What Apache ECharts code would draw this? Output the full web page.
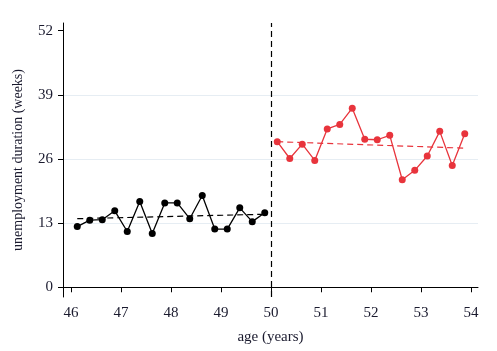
<!DOCTYPE html>
<html>
<head>
<meta charset="utf-8">
<script src="https://cdn.jsdelivr.net/npm/echarts@6/dist/echarts.min.js"></script>
<style>
  html, body { margin: 0; padding: 0; background: #fff; }
  #chart { width: 497px; height: 351px; }
</style>
</head>
<body>
<div id="chart"></div>
<script>
// ages (quarter-year bins) and mean unemployment duration (weeks)
var ageLeft = [46.125, 46.375, 46.625, 46.875, 47.125, 47.375, 47.625, 47.875, 48.125, 48.375, 48.625, 48.875, 49.125, 49.375, 49.625, 49.875];
var durLeft = [12.3, 13.6, 13.7, 15.5, 11.3, 17.4, 10.9, 17.1, 17.1, 13.9, 18.6, 11.8, 11.8, 16.1, 13.3, 15.1];
var ageRight = [50.125, 50.375, 50.625, 50.875, 51.125, 51.375, 51.625, 51.875, 52.125, 52.375, 52.625, 52.875, 53.125, 53.375, 53.625, 53.875];
var durRight = [29.5, 26.1, 29.0, 25.7, 32.1, 33.0, 36.3, 30.0, 29.9, 30.8, 21.8, 23.7, 26.6, 31.6, 24.7, 31.1];

// linear fits on each side (end points)
var fitLeftX = [46.125, 49.875];
var fitLeftY = [13.9, 14.8];
var fitRightX = [50.125, 53.875];
var fitRightY = [29.5, 28.2];

var xTicks = [46, 47, 48, 49, 50, 51, 52, 53, 54];
var yTicks = [0, 13, 26, 39, 52];
var yGrid = [13, 26, 39];
var cutoff = 50;

function pairs(xs, ys) {
  return xs.map(function (x, i) { return [x, ys[i]]; });
}

var red = '#e8343c';
var txt = '#1a1a2e';
var font = '"Liberation Serif", "DejaVu Serif", serif';

var dom = document.getElementById('chart');
var myChart = echarts.init(dom, null, { renderer: 'canvas' });

var option = {
  animation: false,
  textStyle: { fontFamily: font },
  grid: { left: 63, right: 19, top: 23, bottom: 54 },
  xAxis: {
    type: 'value',
    min: 45.84,
    max: 54.14,
    name: 'age (years)',
    nameLocation: 'middle',
    nameGap: 33,
    nameTextStyle: { fontFamily: font, fontSize: 15, color: txt },
    axisLine: { show: true, lineStyle: { color: '#000', width: 1 } },
    axisTick: { show: true, length: 5, customValues: xTicks, lineStyle: { color: '#000' } },
    axisLabel: { customValues: xTicks, fontFamily: font, fontSize: 15, color: txt, margin: 9 },
    splitLine: { show: false }
  },
  yAxis: {
    type: 'value',
    min: -1.97,
    max: 53.56,
    name: 'unemployment duration (weeks)',
    nameLocation: 'middle',
    nameGap: 38,
    nameTextStyle: { fontFamily: font, fontSize: 14, color: txt },
    axisLine: { show: true, lineStyle: { color: '#000', width: 1 } },
    axisTick: { show: true, length: 5, customValues: yTicks, lineStyle: { color: '#000' } },
    axisLabel: { customValues: yTicks, fontFamily: font, fontSize: 15, color: txt, margin: 10 },
    splitLine: { show: false }
  },
  series: [
    {
      type: 'line',
      data: [],
      silent: true,
      z: 0,
      markLine: {
        silent: true,
        symbol: 'none',
        z: 0,
        label: { show: false },
        lineStyle: { color: '#e6edf3', width: 1, type: 'solid' },
        data: yGrid.map(function (v) { return { yAxis: v }; })
      }
    },
    {
      type: 'line',
      data: [],
      silent: true,
      z: 1,
      markLine: {
        silent: true,
        symbol: 'none',
        z: 1,
        label: { show: false },
        lineStyle: { color: '#000', width: 1.2, type: [6, 4] },
        data: [{ xAxis: cutoff }]
      }
    },
    {
      type: 'line',
      data: pairs(fitLeftX, fitLeftY),
      symbol: 'none',
      z: 2,
      lineStyle: { color: '#000', width: 1.2, type: [6, 4] }
    },
    {
      type: 'line',
      data: pairs(fitRightX, fitRightY),
      symbol: 'none',
      z: 2,
      lineStyle: { color: red, width: 1.2, type: [6, 4] }
    },
    {
      type: 'line',
      data: pairs(ageLeft, durLeft),
      symbol: 'circle',
      symbolSize: 7,
      z: 5,
      itemStyle: { color: '#000' },
      lineStyle: { color: '#000', width: 1.3 }
    },
    {
      type: 'line',
      data: pairs(ageRight, durRight),
      symbol: 'circle',
      symbolSize: 7,
      z: 5,
      itemStyle: { color: red },
      lineStyle: { color: red, width: 1.3 }
    }
  ]
};

if (option && typeof option === 'object') {
  myChart.setOption(option);
}

window.addEventListener('resize', myChart.resize);
</script>
</body>
</html>
